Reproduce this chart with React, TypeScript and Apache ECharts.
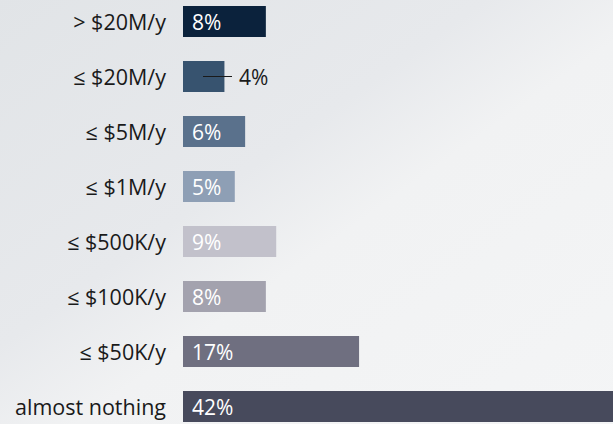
import React, { useEffect, useRef } from "react";
import * as echarts from "echarts";

const categories = [
  "> $20M/y",
  "≤ $20M/y",
  "≤ $5M/y",
  "≤ $1M/y",
  "≤ $500K/y",
  "≤ $100K/y",
  "≤ $50K/y",
  "almost nothing",
];
const values = [8, 4, 6, 5, 9, 8, 17, 42];
const barColors = ["#0b223c", "#37536f", "#5a718c", "#8e9fb5", "#c2c1cb", "#a3a2ae", "#6f6f80", "#474a5c"];
const outsideLabelIndex = 1;

export default function App() {
  const ref = useRef<HTMLDivElement>(null);
  useEffect(() => {
    if (!ref.current) return;
    const chart = echarts.init(ref.current, undefined, { renderer: "svg" });
    const font = "'Open Sans', 'Noto Sans', sans-serif";
    const data = values.map((v, i) => {
      const item: any = { value: v, itemStyle: { color: barColors[i] } };
      if (i === outsideLabelIndex) {
        item.label = {
          show: true,
          position: [20, "50%"],
          verticalAlign: "middle",
          formatter: "{l|}{t|{c}%}",
          rich: {
            l: { width: 29, height: 1, backgroundColor: "#1a1a1a" },
            t: { color: "#1a1a1a", fontSize: 21, fontFamily: font, padding: [0, 0, 0, 7] },
          },
        };
      }
      return item;
    });
    chart.setOption({
      animation: false,
      backgroundColor: {
        type: "linear",
        x: 0,
        y: 0,
        x2: 1,
        y2: 1,
        colorStops: [
          { offset: 0, color: "#e1e4e7" },
          { offset: 0.4, color: "#e7e9ec" },
          { offset: 0.55, color: "#f1f2f3" },
          { offset: 1, color: "#f4f5f6" },
        ],
      },
      grid: { left: 183, right: 0, top: 0, bottom: 0, containLabel: false },
      xAxis: {
        type: "value",
        min: 0,
        max: 42,
        show: false,
      },
      yAxis: {
        type: "category",
        data: categories,
        inverse: true,
        axisLine: { show: false },
        axisTick: { show: false },
        splitLine: { show: false },
        axisLabel: {
          margin: 17,
          color: "#1a1a1a",
          fontSize: 21.5,
          fontFamily: font,
        },
      },
      series: [
        {
          type: "bar",
          data,
          barWidth: 31,
          label: {
            show: true,
            position: "insideLeft",
            distance: 9,
            formatter: "{c}%",
            color: "#ffffff",
            fontSize: 21,
            fontFamily: font,
          },
        },
      ],
    });
    return () => chart.dispose();
  }, []);
  return (
    <div
      ref={ref}
      style={{ position: "fixed", left: 0, top: -6, width: 618, height: 440 }}
    />
  );
}
